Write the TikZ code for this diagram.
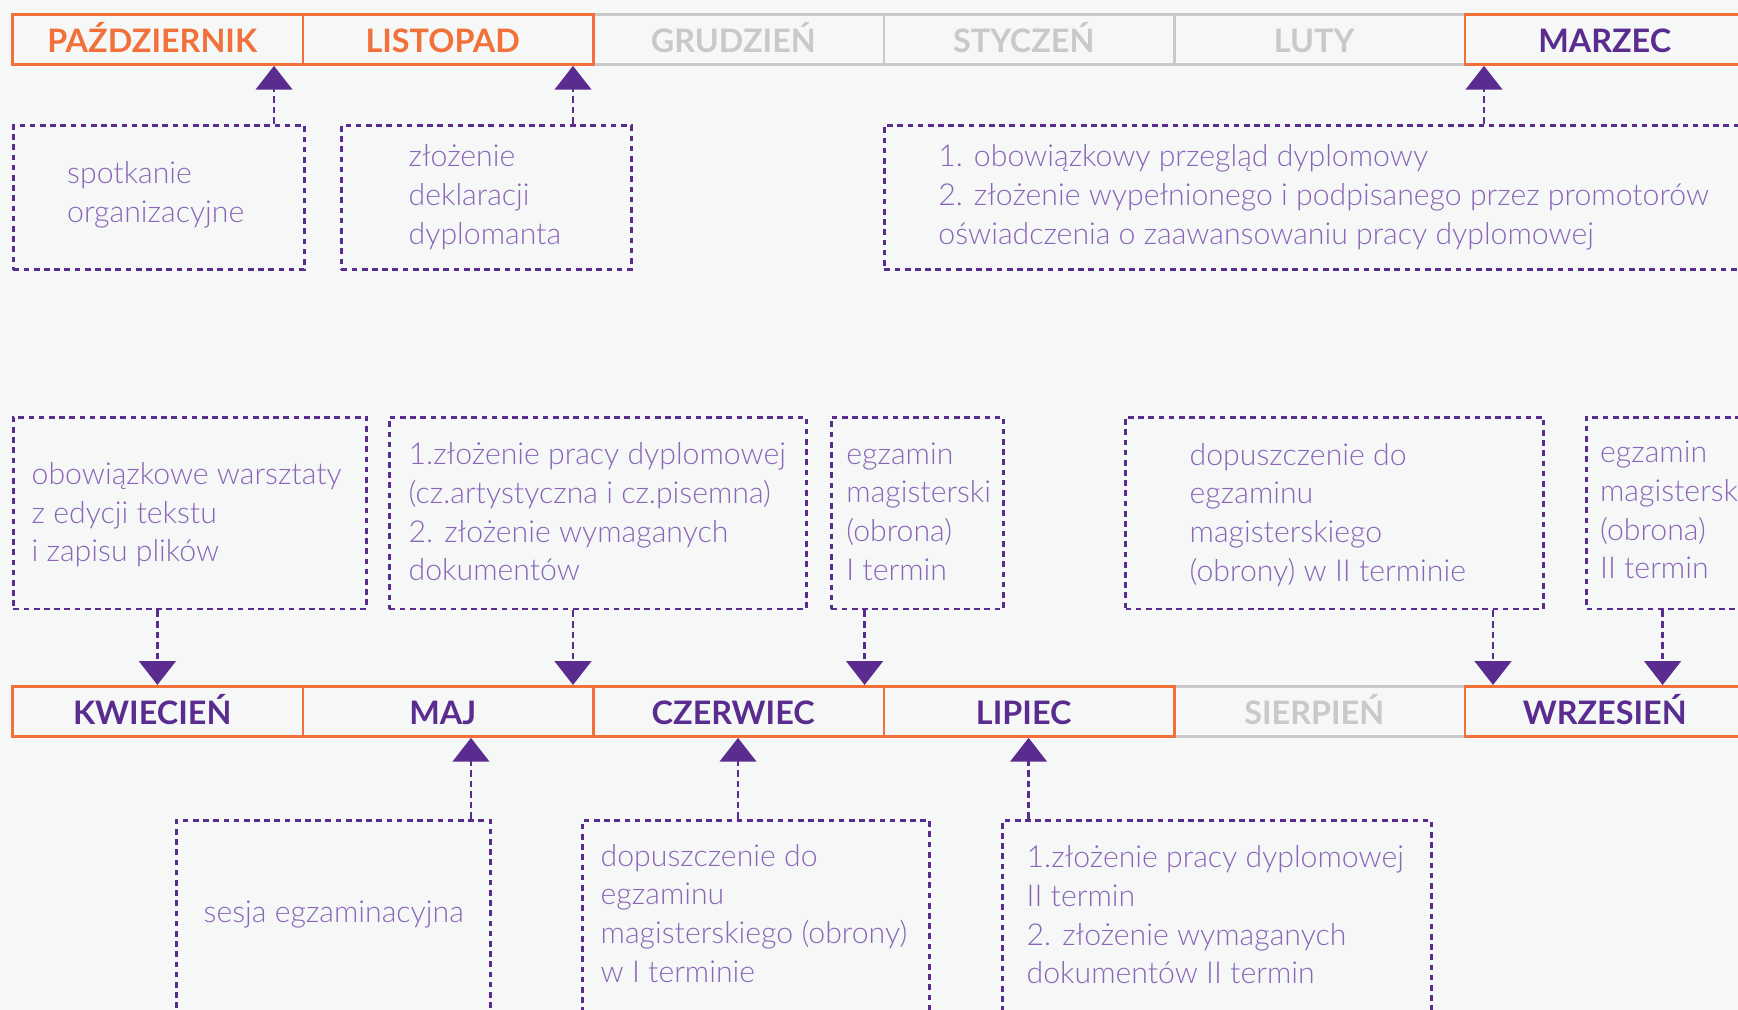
\documentclass[tikz,border=0pt]{standalone}
\usepackage{fontspec}
\setmainfont{Lato}
\newfontfamily\lightfont{Lato Light}
\usepackage{xcolor}
\usetikzlibrary{arrows.meta}
\definecolor{bgcol}{HTML}{F5F8F7}
\definecolor{orng}{HTML}{F2713A}
\definecolor{purp}{HTML}{5B2C8F}
\definecolor{lilac}{HTML}{8A65B8}
\definecolor{grey1}{HTML}{C9C9C9}
\tikzset{
  month/.style={draw, line width=0.8pt, anchor=north west, inner sep=0pt,
    minimum width=2.905cm, minimum height=0.5cm,
    text height=7.6pt, text depth=0pt,
    execute at end node={\hspace{0.11cm}},
    font=\bfseries\fontsize{9.2}{11}\selectfont},
  greymonth/.style={month, draw=grey1, text=grey1},
  orngmonth/.style={month, draw=orng, text=orng},
  purpmonth/.style={month, draw=orng, text=purp},
  note/.style={draw=purp, line width=0.85pt, dash pattern=on 1.6pt off 1.3pt,
    anchor=north west, inner sep=0pt},
  txt/.style={anchor=west, align=left, inner sep=0pt, text=lilac,
    font=\lightfont\fontsize{8.6}{11}\selectfont},
  link/.style={purp, line width=0.8pt, dash pattern=on 1.9pt off 1.1pt,
    -{Triangle[width=10.4pt,length=6.8pt]}}
}

\begin{document}
\begin{tikzpicture}[x=0.01cm, y=-0.01cm]
  \fill[bgcol] (0,0) rectangle (1738,1010);
  \useasboundingbox (0,0) rectangle (1738,1010);
  % Months, grey ones first so the orange frames lie on top
  \foreach \nm/\lab/\k in {gru/GRUDZIEŃ/2, sty/STYCZEŃ/3, lut/LUTY/4}
    \node[greymonth] (\nm) at ({11+290.5*\k},13) {\lab};
  \node[greymonth] (sie) at ({11+290.5*4},685) {SIERPIEŃ};
  \node[orngmonth] (paz) at (11,13) {PAŹDZIERNIK};
  \node[orngmonth] (lis) at (301.5,13) {LISTOPAD};
  \node[purpmonth] (mar) at ({11+290.5*5},13) {MARZEC};
  \foreach \nm/\lab/\k in {kwi/KWIECIEŃ/0, maj/MAJ/1, cze/CZERWIEC/2, lip/LIPIEC/3, wrz/WRZESIEŃ/5}
    \node[purpmonth] (\nm) at ({11+290.5*\k},685) {\lab};

  % Notes above the first row
  \node[note, minimum width=2.906cm, minimum height=1.44cm] (b1) at (12,124) {};
  \node[txt] (t1) at (66.5,194.5) {spotkanie\\organizacyjne};
  \node[note, minimum width=2.896cm, minimum height=1.44cm] (b2) at (340,124) {};
  \node[txt] (t2) at (408,197.2) {złożenie\\deklaracji\\dyplomanta};
  \node[note, minimum width=8.8cm, minimum height=1.44cm] (b3) at (883,124) {};
  \node[txt] (t3) at (937.7,197.2) {1. obowiązkowy przegląd dyplomowy\\2. złożenie wypełnionego i podpisanego przez promotorów\\oświadczenia o zaawansowaniu pracy dyplomowej};

  % Notes between the rows
  \node[note, minimum width=3.527cm, minimum height=1.918cm] (m1) at (12,415.6) {};
  \node[txt] (t4) at (31,514.8) {obowiązkowe warsztaty\\z edycji tekstu\\i zapisu plików};
  \node[note, minimum width=4.167cm, minimum height=1.918cm] (m2) at (388,415.6) {};
  \node[txt] (t5) at (408,512) {1.złożenie pracy dyplomowej\\(cz.artystyczna i cz.pisemna)\\2. złożenie wymaganych\\dokumentów};
  \node[note, minimum width=1.72cm, minimum height=1.918cm] (m3) at (830,415.6) {};
  \node[txt] (t6) at (845.7,511.5) {egzamin\\magisterski\\(obrona)\\I termin};
  \node[note, minimum width=4.178cm, minimum height=1.918cm] (m4) at (1124,415.6) {};
  \node[txt] (t7) at (1189,514.8) {dopuszczenie do\\egzaminu\\magisterskiego\\(obrony) w II terminie};
  \node[note, minimum width=1.8cm, minimum height=1.918cm] (m5) at (1585,415.6) {};
  \node[txt] (t8) at (1599.4,510) {egzamin\\magisterski\\(obrona)\\II termin};

  % Notes below the second row
  \node[note, minimum width=3.138cm, minimum height=2.2cm] (l1) at (175,819) {};
  \node[txt] (t9) at (203,914.3) {sesja egzaminacyjna};
  \node[note, minimum width=3.47cm, minimum height=2.2cm] (l2) at (581,819) {};
  \node[txt] (t10) at (600,913.3) {dopuszczenie do\\egzaminu\\magisterskiego (obrony)\\w I terminie};
  \node[note, minimum width=4.29cm, minimum height=2.2cm] (l3) at (1001,819) {};
  \node[txt] (t11) at (1026,915) {1.złożenie pracy dyplomowej\\II termin\\2. złożenie wymaganych\\dokumentów II termin};

  % Arrow positions
  \coordinate (x1) at (274,0);
  \coordinate (x2) at (573,0);
  \coordinate (x3) at (1484,0);
  \coordinate (x4) at (157.4,0);
  \coordinate (x5) at (864.6,0);
  \coordinate (x6) at (1493,0);
  \coordinate (x7) at (1662.6,0);
  \coordinate (x8) at (471,0);
  \coordinate (x9) at (738,0);
  \coordinate (x10) at (1028.6,0);

  % Arrows
  \draw[link] (b1.north -| x1) -- (paz.south -| x1);
  \draw[link] (b2.north -| x2) -- (lis.south -| x2);
  \draw[link] (b3.north -| x3) -- (mar.south -| x3);
  \draw[link] (m1.south -| x4) -- (kwi.north -| x4);
  \draw[link] (m2.south -| x2) -- (maj.north -| x2);
  \draw[link] (m3.south -| x5) -- (cze.north -| x5);
  \draw[link] (m4.south -| x6) -- (wrz.north -| x6);
  \draw[link] (m5.south -| x7) -- (wrz.north -| x7);
  \draw[link] (l1.north -| x8) -- (maj.south -| x8);
  \draw[link] (l2.north -| x9) -- (cze.south -| x9);
  \draw[link] (l3.north -| x10) -- (lip.south -| x10);
\end{tikzpicture}
\end{document}
